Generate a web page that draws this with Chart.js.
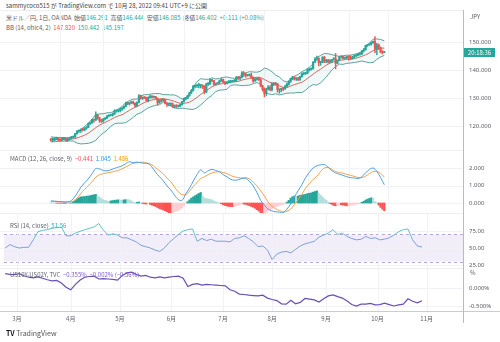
<!DOCTYPE html>
<html lang="ja">
<head>
<meta charset="UTF-8">
<title>USDJPY 1D</title>
<script src="https://cdn.jsdelivr.net/npm/chart.js@4"></script>
<style>
  html, body { margin: 0; padding: 0; background: #fff; }
  body { width: 500px; height: 342px; position: relative; overflow: hidden;
         font-family: "Noto Sans CJK JP", "Noto Sans", sans-serif; color: #555; }
  canvas.pane { position: absolute; left: 0; }
  .txt { position: absolute; font-size: 6px; line-height: 7px; white-space: nowrap; color: #5d606b; }
  .up { color: #26a69a; }
  .dn { color: #ef5350; }
  .hr { position: absolute; left: 0; width: 463px; height: 1px; background: #eceef2; }
</style>
</head>
<body>

<div class="txt" style="left:6px;top:2px;color:#444">sammycoco515 が TradingView.com で 10月 28, 2022 09:41 UTC+9 に公開</div>
<div class="txt" style="left:6px;top:14px">米ドル／円, 1日, OANDA&nbsp; 始値<span class="up">146.291</span>&nbsp; 高値<span class="up">146.444</span>&nbsp; 安値<span class="up">146.085</span>&nbsp; 終値<span class="up">146.402</span>&nbsp; <span class="up">+0.111 (+0.08%)</span></div>
<div class="txt" style="left:6px;top:24px">BB (14, ohlc4, 2)&nbsp; <span class="dn">147.820</span>&nbsp; <span class="up">150.442</span>&nbsp; <span class="up">145.197</span></div>

<canvas id="main" class="pane" width="500" height="140" style="top:10px"></canvas>
<canvas id="macd" class="pane" width="500" height="63" style="top:150px"></canvas>
<canvas id="rsi" class="pane" width="500" height="55" style="top:213px"></canvas>
<canvas id="spread" class="pane" width="500" height="74" style="top:268px"></canvas>

<div class="hr" style="top:10px"></div>
<div class="hr" style="top:150px"></div>
<div class="hr" style="top:213px"></div>
<div class="hr" style="top:268px"></div>
<div style="position:absolute;left:0;top:311px;width:500px;height:1px;background:#c9ccd3"></div>
<div style="position:absolute;left:463px;top:10px;width:1px;height:313px;background:#b8bbc3"></div>

<div class="txt" style="left:10px;top:155px">MACD (12, 26, close, 9)&nbsp; <span style="color:#ef5350">−0.441</span>&nbsp; <span style="color:#2196f3">1.045</span>&nbsp; <span style="color:#ff9800">1.486</span></div>
<div class="txt" style="left:10px;top:222px">RSI (14, close)&nbsp; <span style="color:#26b0c8">51.56</span></div>
<div class="txt" style="left:10px;top:271px">US10Y-US02Y, TVC&nbsp; <span style="color:#7e57c2">−0.355%</span>&nbsp; <span style="color:#7e57c2">−0.002% (−0.56%)</span></div>

<div class="txt" style="left:470px;top:13px">JPY</div>
<div style="position:absolute;left:464px;top:48px;width:31px;height:9px;background:#26a69a;color:#fff;font-size:6px;line-height:9px;text-align:center">20:18:36</div>
<div class="txt" style="left:470px;top:269px">%</div>

<div class="txt" style="left:6px;top:330px;font-size:7px;color:#555"><b style="color:#131722">TV</b> TradingView</div>

<script>
// daily candles, 2022-02-22 .. 2022-10-28 (trading days)
const opens = [
  115.1,115.0,115.0,115.5,115.6,115.0,114.9,115.5,115.5,114.8,
  115.3,115.7,116.0,116.1,117.3,118.2,118.3,118.7,118.6,119.2,
  119.5,120.8,121.2,122.3,122.1,123.8,122.9,121.9,121.7,122.5,
  122.8,123.6,123.8,123.9,124.3,125.4,125.4,125.6,126.0,126.4,
  127.0,128.2,127.9,128.4,128.5,128.1,127.2,128.4,130.8,129.8,
  130.2,130.1,129.1,130.2,130.6,130.3,130.4,129.9,128.3,129.2,
  129.1,129.4,128.2,127.8,127.9,127.9,126.9,127.3,127.1,127.1,
  127.6,128.7,129.8,129.9,130.9,131.9,132.6,134.2,134.4,134.4,
  134.4,134.5,134.2,132.2,135.0,135.1,136.6,136.2,134.9,135.2,
  135.4,136.1,136.6,135.7,135.2,135.7,135.8,135.9,136.0,136.1,
  137.4,137.0,137.4,139.0,138.5,138.1,138.2,138.2,137.4,136.1,
  136.7,137.0,136.6,134.3,133.2,131.6,133.2,133.8,133.0,135.0,
  134.9,135.1,132.9,133.0,133.4,133.3,134.2,135.0,135.9,137.0,
  137.5,136.8,137.0,136.6,137.6,138.7,138.7,138.9,140.2,140.2,
  140.5,142.8,143.9,144.1,142.6,142.8,144.6,143.2,143.5,142.9,
  143.2,143.7,144.1,142.4,143.4,144.7,144.8,144.2,144.4,144.7,
  144.6,144.1,144.6,145.1,145.3,145.7,145.8,146.9,147.2,148.7,
  149.0,149.2,149.9,150.2,147.6,149.0,148.0,146.4,146.29
];
const highs = [
  115.5,115.8,115.8,116.0,115.9,115.4,115.8,115.9,115.8,115.6,
  116.0,116.3,116.4,117.4,118.4,118.5,119.0,119.2,119.4,119.8,
  121.0,121.4,122.4,122.4,125.1,124.2,123.1,122.4,122.7,123.0,
  123.7,124.0,124.0,124.6,125.8,125.6,125.8,126.3,126.6,127.2,
  128.5,128.5,128.5,128.8,128.9,128.3,128.6,131.2,131.0,130.4,
  130.5,130.3,130.4,131.0,130.9,130.6,130.6,130.0,129.4,129.7,
  129.7,129.5,128.4,128.2,128.1,128.2,127.5,127.6,127.3,127.8,
  128.8,130.0,130.2,131.0,132.0,133.0,134.5,134.6,134.6,135.2,
  134.8,134.7,134.4,135.2,135.5,136.7,136.7,136.3,135.3,135.5,
  136.4,137.0,136.8,135.9,135.9,136.2,136.3,136.2,136.6,137.7,
  137.7,137.5,139.4,139.4,138.9,138.4,138.4,138.9,137.6,137.4,
  137.2,137.5,136.9,134.6,133.6,133.5,134.4,134.4,135.5,135.6,
  135.6,135.2,133.2,133.5,133.6,134.5,135.3,136.0,137.1,137.7,
  137.6,137.3,137.4,137.7,139.0,139.0,139.1,140.3,140.3,140.8,
  143.0,144.4,145.0,144.4,143.1,144.7,144.9,143.8,143.8,143.7,
  143.8,144.4,145.9,143.6,144.8,144.9,144.9,144.6,144.9,145.0,
  145.1,144.9,145.4,145.4,145.9,146.0,146.9,147.7,148.9,149.1,
  149.3,150.0,150.3,151.9,149.5,149.3,148.2,146.9,146.44
];
const lows = [
  114.6,114.4,114.7,115.2,114.7,114.6,114.7,115.1,114.6,114.5,
  115.0,115.4,115.7,115.9,117.1,117.7,117.7,118.2,118.3,118.8,
  119.4,120.6,120.9,121.4,122.0,122.4,121.3,121.3,121.3,122.2,
  122.6,123.3,123.6,123.5,124.1,124.9,125.0,125.0,125.6,126.1,
  126.8,127.6,127.5,128.0,127.8,126.9,127.0,128.2,129.6,129.5,
  129.8,128.8,128.6,129.9,129.9,130.0,129.6,127.5,128.1,128.6,
  128.8,127.9,127.0,127.2,127.3,126.6,126.4,126.6,126.7,126.9,
  127.4,128.5,129.3,129.8,130.6,131.6,132.5,133.6,133.8,133.6,
  133.6,133.4,131.5,131.9,134.5,134.8,135.8,134.5,134.6,135.0,
  135.2,135.9,135.5,134.8,135.0,135.3,135.4,135.7,135.7,136.0,
  136.6,136.4,137.2,137.7,137.4,137.8,137.8,137.0,135.6,135.9,
  136.4,136.3,134.1,132.5,130.4,130.9,132.9,132.6,132.5,134.4,
  134.6,132.1,131.7,132.2,132.6,133.1,133.9,134.6,135.6,136.5,
  136.4,136.3,136.2,136.3,137.4,138.2,138.4,138.7,139.6,139.9,
  140.3,142.6,143.4,141.5,141.7,142.6,142.6,142.6,142.4,142.6,
  142.6,143.5,140.4,142.3,143.3,144.2,143.9,144.0,144.0,143.5,
  143.7,143.9,144.2,144.8,145.0,145.3,145.5,146.4,147.1,148.4,
  148.8,148.9,149.5,146.2,145.5,147.3,146.2,145.7,146.09
];
const closes = [
  115.0,115.0,115.5,115.6,115.0,114.9,115.5,115.5,114.8,115.3,
  115.7,116.0,116.1,117.3,118.2,118.3,118.7,118.6,119.2,119.5,
  120.8,121.2,122.3,122.1,123.8,122.9,121.9,121.7,122.5,122.8,
  123.6,123.8,123.9,124.3,125.4,125.4,125.6,126.0,126.4,127.0,
  128.2,127.9,128.4,128.5,128.1,127.2,128.4,130.8,129.8,130.2,
  130.1,129.1,130.2,130.6,130.3,130.4,129.9,128.3,129.2,129.1,
  129.4,128.2,127.8,127.9,127.9,126.9,127.3,127.1,127.1,127.6,
  128.7,129.8,129.9,130.9,131.9,132.6,134.2,134.4,134.4,134.4,
  134.5,134.2,132.2,135.0,135.1,136.6,136.2,134.9,135.2,135.4,
  136.1,136.6,135.7,135.2,135.7,135.8,135.9,136.0,136.1,137.4,
  137.0,137.4,139.0,138.5,138.1,138.2,138.2,137.4,136.1,136.7,
  137.0,136.6,134.3,133.2,131.6,133.2,133.8,133.0,135.0,134.9,
  135.1,132.9,133.0,133.4,133.3,134.2,135.0,135.9,137.0,137.5,
  136.8,137.0,136.6,137.6,138.7,138.7,138.9,140.2,140.2,140.5,
  142.8,143.9,144.1,142.6,142.8,144.6,143.2,143.5,142.9,143.2,
  143.7,144.1,142.4,143.4,144.7,144.8,144.2,144.4,144.7,144.6,
  144.1,144.6,145.1,145.3,145.7,145.8,146.9,147.2,148.7,149.0,
  149.2,149.9,150.2,147.6,149.0,148.0,146.4,146.3,146.402
];

// indicator lines, one value every 2 trading days
const bbBasis = [
  115.2,115.2,115.2,115.3,115.2,115.3,115.4,115.7,116.2,116.7,
  117.4,118.4,119.4,120.3,121.0,121.6,122.3,123.0,123.6,124.0,
  124.8,125.6,126.4,126.9,127.7,128.4,128.9,129.3,129.5,129.6,
  129.8,129.5,129.2,128.8,128.3,128.0,128.2,128.5,129.3,130.2,
  131.3,132.1,133.1,134.0,134.6,134.9,135.2,135.3,135.7,135.8,
  135.9,136.4,136.7,137.0,137.2,137.4,137.3,136.6,135.9,135.3,
  134.9,134.3,133.8,133.7,134.3,134.8,135.2,135.6,136.5,137.5,
  138.5,139.5,140.3,141.3,142.1,142.7,143.2,143.5,143.6,143.8,
  143.9,144.1,144.4,144.9,145.4,146.1,146.9,147.4,147.8,147.82
];
const bbUpper = [
  116.1,116.0,115.9,115.9,115.8,115.9,116.2,117.6,118.8,119.8,
  121.0,122.5,124.1,124.3,124.4,124.7,124.8,125.3,126.1,127.0,
  128.3,129.1,129.6,129.6,130.7,131.2,131.2,131.5,131.6,131.6,
  131.2,131.2,131.1,131.1,130.5,129.6,130.2,131.5,133.8,135.8,
  136.9,136.7,136.7,137.2,136.8,137.0,137.4,137.5,137.2,137.0,
  137.3,138.3,139.0,139.4,139.3,139.2,139.6,140.7,140.3,139.4,
  138.2,137.5,136.2,135.7,136.7,137.8,138.4,139.4,140.1,141.0,
  142.2,144.5,145.2,145.9,145.8,145.5,145.1,144.9,145.1,145.3,
  145.3,145.6,146.0,146.5,148.0,149.6,151.0,151.1,150.9,150.442
];
const bbLower = [
  114.3,114.4,114.5,114.6,114.6,114.7,114.6,113.9,113.6,113.7,
  113.8,114.2,114.9,116.4,117.5,118.5,119.9,120.8,121.0,121.0,
  121.2,122.1,123.1,124.2,124.7,125.6,126.5,127.0,127.4,127.6,
  128.5,127.7,127.2,126.5,126.2,126.4,126.2,126.0,125.9,126.5,
  127.5,128.7,130.0,130.9,132.3,132.8,132.9,133.1,134.5,134.7,
  134.6,134.4,134.5,134.6,135.1,135.5,135.0,132.4,131.5,131.2,
  131.5,131.1,131.4,131.7,131.8,131.8,132.0,131.9,132.8,134.0,
  134.8,134.6,135.4,136.8,138.3,140.0,141.2,142.1,142.0,142.4,
  142.5,142.7,142.9,143.2,142.9,142.6,142.7,143.8,144.7,145.197
];
const macdLine = [
  0.12,0.10,0.08,0.07,0.05,0.08,0.25,0.55,0.90,1.15,
  1.38,1.68,1.97,1.95,1.86,1.84,1.90,1.98,2.05,2.12,
  2.25,2.36,2.30,2.34,2.30,2.27,2.25,2.05,1.75,1.50,
  1.28,0.98,0.75,0.45,0.20,0.15,0.52,0.85,1.25,1.62,
  1.90,1.72,1.85,1.92,1.86,1.78,1.62,1.50,1.36,1.30,
  1.33,1.40,1.41,1.25,0.98,0.60,0.15,-0.12,-0.35,-0.45,
  -0.50,-0.52,-0.55,-0.35,-0.05,0.35,0.70,1.05,1.45,1.75,
  2.00,2.13,2.18,2.20,2.05,1.85,1.72,1.65,1.58,1.50,
  1.45,1.43,1.40,1.50,1.72,1.92,2.00,1.82,1.45,1.045
];
const signalLine = [
  0.10,0.10,0.09,0.08,0.07,0.07,0.10,0.25,0.55,0.78,
  0.98,1.22,1.48,1.62,1.68,1.72,1.76,1.81,1.87,1.95,
  2.06,2.18,2.27,2.30,2.33,2.32,2.27,2.18,2.00,1.84,
  1.67,1.43,1.22,0.92,0.64,0.48,0.48,0.68,0.93,1.17,
  1.40,1.50,1.62,1.72,1.77,1.79,1.74,1.68,1.57,1.50,
  1.45,1.43,1.45,1.38,1.20,0.98,0.70,0.40,0.05,-0.18,
  -0.33,-0.43,-0.51,-0.47,-0.35,-0.10,0.20,0.50,0.85,1.10,
  1.35,1.52,1.80,2.00,2.03,1.92,1.80,1.74,1.70,1.64,
  1.58,1.52,1.46,1.45,1.53,1.68,1.80,1.80,1.70,1.486
];
const rsiValues = [
  50,55,52,50,51,51,62,74,76,77,
  79,80,81,68,68,72,74.5,77,79,81,
  86,76,69,71,69,65,65,62,59,54,
  52,50,47,45,50,58,64,70,75,77,
  78,60,64,61,63,60,60,60,59,64,
  65,68,64,59,52,53,47,33,41,44,
  45,43,48,53,56,58,60,66,69,72,
  77,70,72,67,64,62,63,67,64,65,
  62,63,65,69,74,77,78,62,53,51.56
];
const spreadValues = [
  0.40,0.38,0.37,0.40,0.34,0.30,0.28,0.31,0.27,0.23,
  0.20,0.21,0.14,0.02,-0.05,0.10,0.22,0.30,0.32,0.33,
  0.25,0.26,0.25,0.24,0.22,0.35,0.42,0.44,0.38,0.33,
  0.35,0.30,0.28,0.31,0.28,0.30,0.32,0.33,0.27,0.04,
  0.10,0.12,0.08,0.10,0.09,0.08,0.07,0.06,-0.05,-0.09,
  -0.17,-0.18,-0.20,-0.21,-0.22,-0.20,-0.28,-0.32,-0.35,-0.44,
  -0.45,-0.34,-0.44,-0.40,-0.29,-0.31,-0.33,-0.39,-0.30,-0.22,
  -0.19,-0.24,-0.28,-0.36,-0.46,-0.50,-0.45,-0.45,-0.43,-0.47,
  -0.46,-0.42,-0.46,-0.50,-0.47,-0.45,-0.30,-0.37,-0.41,-0.355
];
// MACD histogram, one bar per trading day
const macdHist = [
  0.02,0.01,0.00,-0.01,-0.01,-0.01,-0.01,-0.02,-0.02,-0.01,0.00,0.01,
  0.10,0.17,0.24,0.30,0.35,0.36,0.37,0.39,0.40,0.42,0.45,0.47,0.49,0.40,
  0.33,0.25,0.18,0.15,0.12,0.10,
  0.12,0.14,0.16,0.17,0.18,0.17,0.17,0.18,0.19,0.19,0.18,0.12,
  0.05,0.02,0.04,0.06,0.01,
  -0.03,-0.05,-0.06,-0.04,-0.08,
  -0.12,-0.16,-0.20,-0.26,-0.32,-0.36,-0.40,-0.44,-0.50,-0.56,-0.58,
  -0.56,-0.50,-0.45,-0.42,-0.36,-0.28,-0.15,-0.04,
  0.08,0.18,0.28,0.35,0.42,0.48,0.55,0.60,
  0.40,0.28,0.25,0.23,0.21,0.18,0.12,0.08,0.04,0.01,
  -0.05,-0.10,-0.14,-0.17,-0.20,-0.21,-0.21,-0.20,-0.16,-0.13,-0.09,-0.05,-0.06,
  -0.08,-0.12,-0.15,-0.20,-0.24,-0.30,-0.38,-0.46,-0.56,-0.66,
  -0.62,-0.55,-0.45,-0.38,-0.32,-0.26,-0.22,-0.18,-0.14,-0.10,-0.07,-0.03,
  0.05,0.15,0.28,0.36,0.40,0.38,0.40,0.44,0.46,0.48,0.50,0.54,0.56,0.58,0.62,0.66,0.69,
  0.55,0.45,0.35,0.25,0.15,0.05,
  -0.03,-0.08,-0.14,-0.16,-0.12,-0.09,-0.10,-0.12,-0.14,-0.16,-0.15,-0.13,-0.11,-0.09,-0.07,-0.05,-0.03,
  0.04,0.10,0.17,0.22,0.26,0.30,0.28,0.08,0.02,
  -0.12,-0.25,-0.36,-0.441
];
const monthLabels = ['3月','4月','5月','6月','7月','8月','9月','10月','11月'];
const priceTicks = [120, 130, 140, 150];
const macdTicks = [0, 1, 2];
const rsiTicks = [25, 50, 75];
const spreadTicks = [0, -0.5];

// trading-day calendar -> index of first bar of each month
const days = [];
for (let d = new Date(Date.UTC(2022, 1, 22)); d <= new Date(Date.UTC(2022, 10, 30)); d.setUTCDate(d.getUTCDate() + 1)) {
  const wd = d.getUTCDay();
  if (wd !== 0 && wd !== 6) days.push(new Date(d));
}
const monthIdx = [];
for (let i = 1; i < days.length; i++) {
  if (days[i].getUTCMonth() !== days[i - 1].getUTCMonth()) monthIdx.push(i);
}

const UP = '#26a69a', DN = '#ef5350', GRID = '#f0f2f5';
const every2 = arr => arr.map((v, i) => ({ x: i * 2, y: v }));
const daily = arr => arr.map((v, i) => ({ x: i, y: v }));

function paneDeco(ticks, fmt, opts = {}) {
  return {
    id: 'paneDeco',
    beforeDatasetsDraw(chart) {
      const { ctx, chartArea: a, scales: { x, y } } = chart;
      ctx.save();
      if (opts.band) {
        const t = y.getPixelForValue(opts.band[0]), b = y.getPixelForValue(opts.band[1]);
        ctx.fillStyle = 'rgba(126,87,194,0.10)';
        ctx.fillRect(a.left, t, a.right - a.left, b - t);
        ctx.strokeStyle = '#b9a6dc';
        ctx.setLineDash([3, 3]);
        [t, b].forEach(py => {
          ctx.beginPath(); ctx.moveTo(a.left, Math.round(py) + 0.5); ctx.lineTo(a.right, Math.round(py) + 0.5); ctx.stroke();
        });
        ctx.setLineDash([]);
      }
      ctx.strokeStyle = GRID;
      ctx.lineWidth = 1;
      monthIdx.forEach(i => {
        const px = Math.round(x.getPixelForValue(i)) + 0.5;
        ctx.beginPath(); ctx.moveTo(px, a.top); ctx.lineTo(px, a.bottom); ctx.stroke();
      });
      ticks.forEach(v => {
        const py = Math.round(y.getPixelForValue(v)) + 0.5;
        ctx.beginPath(); ctx.moveTo(0, py); ctx.lineTo(a.right, py); ctx.stroke();
      });
      ctx.restore();
    },
    afterDraw(chart) {
      const { ctx, chartArea: a, scales: { x, y } } = chart;
      ctx.save();
      ctx.font = '6px "Noto Sans", sans-serif';
      ctx.fillStyle = '#5d606b';
      ctx.textBaseline = 'middle';
      ctx.textAlign = 'left';
      ticks.forEach(v => ctx.fillText(fmt(v), a.right + 6, y.getPixelForValue(v)));
      if (opts.months) {
        ctx.textAlign = 'center';
        ctx.font = '6px "Noto Sans CJK JP", sans-serif';
        monthIdx.forEach((idx, k) => ctx.fillText(monthLabels[k], x.getPixelForValue(idx), a.bottom + 7));
      }
      ctx.restore();
    }
  };
}

function options(yMin, yMax, bottom = 0) {
  return {
    responsive: false,
    animation: false,
    events: [],
    layout: { padding: { left: 4, right: 0, top: 0, bottom: bottom } },
    plugins: { legend: { display: false }, tooltip: { enabled: false } },
    scales: {
      x: { type: 'linear', min: -0.5, max: 195.5, display: false },
      y: {
        position: 'right', min: yMin, max: yMax,
        grid: { display: false }, border: { display: false },
        ticks: { display: false },
        afterFit: s => { s.width = 37; }
      }
    }
  };
}

// price pane
new Chart(document.getElementById('main'), {
  type: 'bar',
  data: {
    datasets: [
      { type: 'line', data: every2(bbUpper), borderColor: '#4d9893', borderWidth: 0.9, pointRadius: 0,
        fill: '+1', backgroundColor: 'rgba(43,160,150,0.07)', order: 4 },
      { type: 'line', data: every2(bbLower), borderColor: '#4d9893', borderWidth: 0.9, pointRadius: 0,
        fill: false, order: 3 },
      { type: 'line', data: every2(bbBasis), borderColor: '#d65a55', borderWidth: 0.9, pointRadius: 0,
        fill: false, order: 2 },
      { data: lows.map((l, i) => ({ x: i, y: [l, highs[i]] })), grouped: false, barThickness: 0.8,
        backgroundColor: c => closes[c.dataIndex] >= opens[c.dataIndex] ? UP : DN, order: 1 },
      { data: opens.map((o, i) => ({ x: i, y: [o, closes[i]] })), grouped: false, barThickness: 1.5,
        minBarLength: 1,
        backgroundColor: c => closes[c.dataIndex] >= opens[c.dataIndex] ? UP : DN, order: 0 }
    ]
  },
  options: options(111.43, 161.43),
  plugins: [paneDeco(priceTicks, v => v.toFixed(3))]
});

// MACD pane
new Chart(document.getElementById('macd'), {
  type: 'bar',
  data: {
    datasets: [
      { type: 'line', data: every2(macdLine), borderColor: '#4a9fe8', borderWidth: 1, pointRadius: 0,
        tension: 0.3, order: 0 },
      { type: 'line', data: every2(signalLine), borderColor: '#f7a04b', borderWidth: 1, pointRadius: 0,
        tension: 0.3, order: 1 },
      { data: daily(macdHist), barThickness: 1.6, order: 2,
        backgroundColor: c => {
          const i = c.dataIndex, v = macdHist[i], p = i > 0 ? macdHist[i - 1] : v;
          if (v >= 0) return p < v ? '#26a69a' : '#b2dfdb';
          return p < v ? '#ffcdd2' : '#ff5252';
        } }
    ]
  },
  options: options(-0.571, 3.03),
  plugins: [paneDeco(macdTicks, v => v.toFixed(3))]
});

// RSI pane
new Chart(document.getElementById('rsi'), {
  type: 'line',
  data: {
    datasets: [
      { data: every2(rsiValues), borderColor: '#7f9fdb', borderWidth: 1, pointRadius: 0,
        segment: { borderColor: s => (s.p0.parsed.y > 70 || s.p1.parsed.y > 70) ? '#5cc4c6' : undefined } }
    ]
  },
  options: options(20.6, 101.5),
  plugins: [paneDeco(rsiTicks, v => v.toFixed(2), { band: [70, 30] })]
});

// US10Y-US02Y pane with time axis labels
new Chart(document.getElementById('spread'), {
  type: 'line',
  data: {
    datasets: [
      { data: every2(spreadValues), borderColor: '#6a4fb8', borderWidth: 1.2, pointRadius: 0 }
    ]
  },
  options: options(-0.667, 0.556, 30),
  plugins: [paneDeco(spreadTicks, v => v.toFixed(3) + '%', { months: true })]
});
</script>
</body>
</html>
